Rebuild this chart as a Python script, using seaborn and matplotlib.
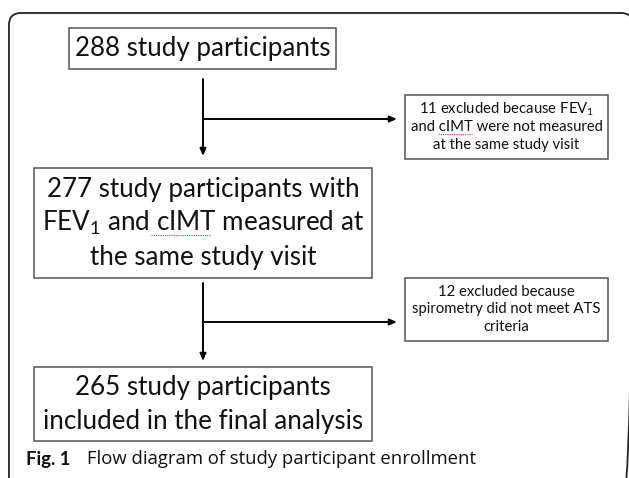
import matplotlib
matplotlib.use("Agg")
import matplotlib.pyplot as plt
import seaborn as sns
from matplotlib.patches import Rectangle, FancyBboxPatch

sns.set_theme(style="white")
plt.rcParams['font.family'] = ['Lato', 'DejaVu Sans']
plt.rcParams['mathtext.fontset'] = 'custom'
plt.rcParams['mathtext.rm'] = 'Lato'
plt.rcParams['mathtext.it'] = 'Lato'

# flow data
stage_counts = [288, 277, 265]
stage_lines = [
    ["{} study participants"],
    ["{} study participants with", "FEV$_\\mathregular{{1}}$ and cIMT measured at", "the same study visit"],
    ["{} study participants", "included in the final analysis"],
]
excluded_counts = [11, 12]
excluded_lines = [
    ["{} excluded because FEV$_\\mathregular{{1}}$", "and cIMT were not measured", "at the same study visit"],
    ["{} excluded because", "spirometry did not meet ATS", "criteria"],
]
caption_bold = "Fig. 1"
caption_text = "Flow diagram of study participant enrollment"

# layout in pixel units (x0, x1, y0, y1)
main_boxes = [(69, 336, 28, 69), (34, 372, 168, 278), (34, 372, 367, 441)]
side_boxes = [(405, 608, 95, 159), (405, 608, 278, 341)]
spine_x = 203
spine_start = [79, 283]
spine_end = [156, 361]
branch_y = [119, 322]

fig = plt.figure(figsize=(6.29, 4.78), dpi=100)
ax = fig.add_axes([0, 0, 1, 1])
ax.set_xlim(0, 629)
ax.set_ylim(478, 0)
ax.axis('off')
renderer = fig.canvas.get_renderer()

# outer panel frame with rounded corners
frame = FancyBboxPatch((9, 13), 624, 500, boxstyle="round,pad=0,rounding_size=12",
                       fill=False, lw=1.3, ec='#222222')
ax.add_patch(frame)


def text_width(s, fs):
    t = ax.text(0, 0, s, fontsize=fs)
    w = t.get_window_extent(renderer).width
    t.remove()
    return w


def squiggle(line, cx, y, fs):
    # red spell-check mark under "cIMT"
    if 'cIMT' not in line:
        return
    prefix = line.split('cIMT')[0]
    full = text_width(line, fs)
    pre = text_width(prefix.rstrip() + ' ', fs) if prefix else 0
    wc = text_width('cIMT', fs)
    x0 = cx - full / 2 + pre
    ax.plot([x0, x0 + wc], [y + fs * 0.62, y + fs * 0.62], color='#e03030', lw=0.8,
            ls=(0, (1, 1)))


def boxed_text(box, lines, fs, pitch, ec):
    x0, x1, y0, y1 = box
    ax.add_patch(Rectangle((x0, y0), x1 - x0, y1 - y0, fill=False, lw=1.1, ec=ec))
    cx, cy = (x0 + x1) / 2, (y0 + y1) / 2
    first = cy - pitch * (len(lines) - 1) / 2
    for k, line in enumerate(lines):
        y = first + k * pitch
        ax.text(cx, y, line, ha='center', va='center', fontsize=fs, color='#111111')
        squiggle(line, cx, y, fs)


for box, n, lines in zip(main_boxes, stage_counts, stage_lines):
    lines = [lines[0].format(n)] + [l.format() for l in lines[1:]]
    boxed_text(box, lines, 18.7, 34, '#555555')

for box, n, lines in zip(side_boxes, excluded_counts, excluded_lines):
    lines = [lines[0].format(n)] + [l.format() for l in lines[1:]]
    boxed_text(box, lines, 10.7, 17.5, '#555555')

arrow_kw = dict(arrowstyle='-|>,head_length=0.35,head_width=0.15', lw=1.4, color='black',
                shrinkA=0, shrinkB=0)
for i in range(2):
    ax.annotate('', xy=(spine_x, spine_end[i]), xytext=(spine_x, spine_start[i]),
                arrowprops=arrow_kw)
    ax.annotate('', xy=(side_boxes[i][0] - 8, branch_y[i]), xytext=(spine_x, branch_y[i]),
                arrowprops=arrow_kw)

ax.text(26, 459, caption_bold, ha='left', va='center', fontsize=13.3, fontweight='bold',
        color='#111111', family=['Lato', 'DejaVu Sans'])
ax.text(87, 459, caption_text, ha='left', va='center', fontsize=13.3,
        color='#111111', family=['Open Sans', 'DejaVu Sans'])

fig.savefig('out.png', dpi=100)
